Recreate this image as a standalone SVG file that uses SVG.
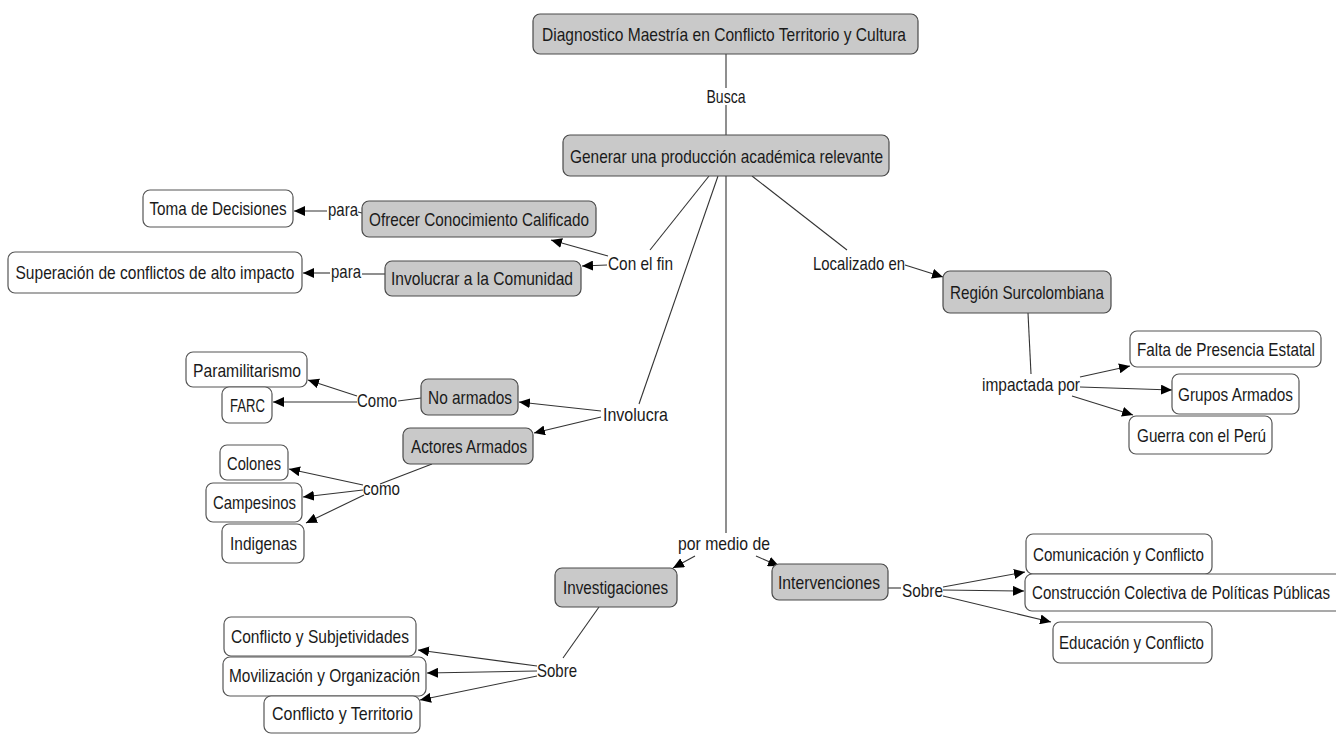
<svg xmlns="http://www.w3.org/2000/svg" width="1336" height="734" viewBox="0 0 1336 734">
<defs>
<style>
.n rect{fill:#ffffff;stroke:#555555;stroke-width:1.2}
.g rect{fill:#c9c9c9;stroke:#4a4a4a;stroke-width:1.2}
text{font-family:"Liberation Sans Narrow","Liberation Sans",Arial,sans-serif;font-size:19px;fill:#1a1a1a;text-anchor:middle}
#connectors line{stroke:#333333;stroke-width:1.1;fill:none}
#connectors line.a{marker-end:url(#arr)}
</style>
<marker id="arr" markerUnits="userSpaceOnUse" markerWidth="11" markerHeight="10" refX="11" refY="5" orient="auto">
<path d="M0,0 L11,5 L0,10 z" fill="#000000"/>
</marker>
</defs>
<rect width="1336" height="734" fill="#ffffff"/>

<g id="connectors">
<line x1="726" y1="54" x2="726" y2="88"/>
<line x1="726" y1="105" x2="726" y2="135"/>
<line x1="709" y1="176" x2="650" y2="250"/>
<line class="a" x1="608" y1="256" x2="551" y2="240"/>
<line class="a" x1="607" y1="265" x2="582" y2="266"/>
<line x1="358" y1="212" x2="362" y2="213"/>
<line class="a" x1="327" y1="211" x2="294" y2="211"/>
<line x1="385" y1="274" x2="362" y2="274"/>
<line class="a" x1="330" y1="273" x2="303" y2="273"/>
<line x1="718" y1="176" x2="639" y2="404"/>
<line class="a" x1="601" y1="411" x2="519" y2="402"/>
<line class="a" x1="601" y1="417" x2="534" y2="433"/>
<line x1="421" y1="398" x2="398" y2="401"/>
<line class="a" x1="357" y1="396" x2="308" y2="380"/>
<line class="a" x1="357" y1="402" x2="273" y2="402"/>
<line x1="432" y1="464" x2="380" y2="484"/>
<line class="a" x1="363" y1="485" x2="289" y2="469"/>
<line class="a" x1="363" y1="490" x2="303" y2="497"/>
<line class="a" x1="364" y1="495" x2="306" y2="523"/>
<line x1="726" y1="176" x2="726" y2="533"/>
<line class="a" x1="695" y1="556" x2="673" y2="568"/>
<line class="a" x1="756" y1="556" x2="779" y2="566"/>
<line x1="599" y1="607" x2="563" y2="658"/>
<line class="a" x1="537" y1="666" x2="418" y2="650"/>
<line class="a" x1="537" y1="671" x2="427" y2="673"/>
<line class="a" x1="537" y1="676" x2="420" y2="700"/>
<line x1="888" y1="588" x2="901" y2="588"/>
<line class="a" x1="943" y1="587" x2="1025" y2="572"/>
<line class="a" x1="943" y1="590" x2="1024" y2="591"/>
<line class="a" x1="943" y1="596" x2="1051" y2="622"/>
<line x1="752" y1="176" x2="847" y2="250"/>
<line class="a" x1="905" y1="265" x2="943" y2="277"/>
<line x1="1028" y1="313" x2="1031" y2="374"/>
<line class="a" x1="1080" y1="377" x2="1130" y2="366"/>
<line class="a" x1="1080" y1="387" x2="1172" y2="390"/>
<line class="a" x1="1072" y1="396" x2="1133" y2="415"/>
</g>

<g id="root" class="g"><rect x="533" y="14" width="385" height="40" rx="7"/><text x="724" y="41" textLength="364" lengthAdjust="spacingAndGlyphs">Diagnostico Maestría en Conflicto Territorio y Cultura</text></g>
<g id="generar" class="g"><rect x="563" y="135" width="326" height="41" rx="7"/><text x="726.5" y="163" textLength="313" lengthAdjust="spacingAndGlyphs">Generar una producción académica relevante</text></g>
<g id="ofrecer" class="g"><rect x="362" y="201" width="234" height="36" rx="7"/><text x="479" y="226" textLength="220" lengthAdjust="spacingAndGlyphs">Ofrecer Conocimiento Calificado</text></g>
<g id="involucrar" class="g"><rect x="385" y="261" width="196" height="35" rx="7"/><text x="482" y="285" textLength="182" lengthAdjust="spacingAndGlyphs">Involucrar a la Comunidad</text></g>
<g id="toma" class="n"><rect x="143" y="190" width="150" height="37" rx="7"/><text x="218" y="215" textLength="137" lengthAdjust="spacingAndGlyphs">Toma de Decisiones</text></g>
<g id="superacion" class="n"><rect x="8" y="252" width="294" height="41" rx="7"/><text x="155" y="279" textLength="279" lengthAdjust="spacingAndGlyphs">Superación de conflictos de alto impacto</text></g>
<g id="region" class="g"><rect x="943" y="271" width="168" height="42" rx="7"/><text x="1027" y="299" textLength="154" lengthAdjust="spacingAndGlyphs">Región Surcolombiana</text></g>
<g id="falta" class="n"><rect x="1130" y="331" width="191" height="36" rx="7"/><text x="1226" y="356" textLength="178" lengthAdjust="spacingAndGlyphs">Falta de Presencia Estatal</text></g>
<g id="grupos" class="n"><rect x="1172" y="374" width="127" height="40" rx="7"/><text x="1235.5" y="401" textLength="115" lengthAdjust="spacingAndGlyphs">Grupos Armados</text></g>
<g id="guerra" class="n"><rect x="1129" y="416" width="143" height="38" rx="7"/><text x="1201.5" y="442" textLength="129" lengthAdjust="spacingAndGlyphs">Guerra con el Perú</text></g>
<g id="noarmados" class="g"><rect x="421" y="379" width="97" height="36" rx="7"/><text x="470" y="404" textLength="84" lengthAdjust="spacingAndGlyphs">No armados</text></g>
<g id="actores" class="g"><rect x="403" y="428" width="130" height="36" rx="7"/><text x="469" y="453" textLength="116" lengthAdjust="spacingAndGlyphs">Actores Armados</text></g>
<g id="paramilitarismo" class="n"><rect x="186" y="352" width="121" height="35" rx="7"/><text x="247" y="377" textLength="108" lengthAdjust="spacingAndGlyphs">Paramilitarismo</text></g>
<g id="farc" class="n"><rect x="222" y="387" width="50" height="36" rx="7"/><text x="247.5" y="412" textLength="35" lengthAdjust="spacingAndGlyphs">FARC</text></g>
<g id="colones" class="n"><rect x="220" y="445" width="68" height="35" rx="7"/><text x="254" y="470" textLength="54" lengthAdjust="spacingAndGlyphs">Colones</text></g>
<g id="campesinos" class="n"><rect x="206" y="483" width="96" height="39" rx="7"/><text x="254.5" y="509" textLength="83" lengthAdjust="spacingAndGlyphs">Campesinos</text></g>
<g id="indigenas" class="n"><rect x="222" y="524" width="82" height="39" rx="7"/><text x="263.5" y="550" textLength="67" lengthAdjust="spacingAndGlyphs">Indigenas</text></g>
<g id="investigaciones" class="g"><rect x="555" y="568" width="122" height="39" rx="7"/><text x="615.5" y="594" textLength="105" lengthAdjust="spacingAndGlyphs">Investigaciones</text></g>
<g id="intervenciones" class="g"><rect x="772" y="564" width="116" height="36" rx="7"/><text x="829" y="589" textLength="102" lengthAdjust="spacingAndGlyphs">Intervenciones</text></g>
<g id="subjetividades" class="n"><rect x="224" y="617" width="192" height="39" rx="7"/><text x="320" y="643" textLength="178" lengthAdjust="spacingAndGlyphs">Conflicto y Subjetividades</text></g>
<g id="movilizacion" class="n"><rect x="223" y="657" width="203" height="39" rx="7"/><text x="324.5" y="682" textLength="191" lengthAdjust="spacingAndGlyphs">Movilización y Organización</text></g>
<g id="territorio" class="n"><rect x="264" y="696" width="156" height="37" rx="7"/><text x="342.5" y="720" textLength="141" lengthAdjust="spacingAndGlyphs">Conflicto y Territorio</text></g>
<g id="comunicacion" class="n"><rect x="1026" y="534" width="186" height="40" rx="7"/><text x="1118.5" y="561" textLength="171" lengthAdjust="spacingAndGlyphs">Comunicación y Conflicto</text></g>
<g id="construccion" class="n"><rect x="1025" y="574" width="330" height="37" rx="7"/><text x="1181" y="599" textLength="298" lengthAdjust="spacingAndGlyphs">Construcción Colectiva de Políticas Públicas</text></g>
<g id="educacion" class="n"><rect x="1053" y="622" width="159" height="41" rx="7"/><text x="1131.5" y="649" textLength="145" lengthAdjust="spacingAndGlyphs">Educación y Conflicto</text></g>

<g id="lbl-busca"><text x="726" y="103" textLength="39" lengthAdjust="spacingAndGlyphs">Busca</text></g>
<g id="lbl-conelfin"><text x="640.5" y="270" textLength="65" lengthAdjust="spacingAndGlyphs">Con el fin</text></g>
<g id="lbl-para1"><text x="343" y="216" textLength="30" lengthAdjust="spacingAndGlyphs">para</text></g>
<g id="lbl-para2"><text x="346" y="278" textLength="30" lengthAdjust="spacingAndGlyphs">para</text></g>
<g id="lbl-localizado"><text x="859" y="270" textLength="92" lengthAdjust="spacingAndGlyphs">Localizado en</text></g>
<g id="lbl-impactada"><text x="1031" y="391" textLength="98" lengthAdjust="spacingAndGlyphs">impactada por</text></g>
<g id="lbl-involucra"><text x="635.5" y="421" textLength="65" lengthAdjust="spacingAndGlyphs">Involucra</text></g>
<g id="lbl-como1"><text x="377" y="407" textLength="40" lengthAdjust="spacingAndGlyphs">Como</text></g>
<g id="lbl-como2"><text x="381.5" y="495" textLength="37" lengthAdjust="spacingAndGlyphs">como</text></g>
<g id="lbl-pormedio"><text x="724" y="550" textLength="92" lengthAdjust="spacingAndGlyphs">por medio de</text></g>
<g id="lbl-sobre1"><text x="557" y="677" textLength="40" lengthAdjust="spacingAndGlyphs">Sobre</text></g>
<g id="lbl-sobre2"><text x="922.5" y="597" textLength="41" lengthAdjust="spacingAndGlyphs">Sobre</text></g>
</svg>
